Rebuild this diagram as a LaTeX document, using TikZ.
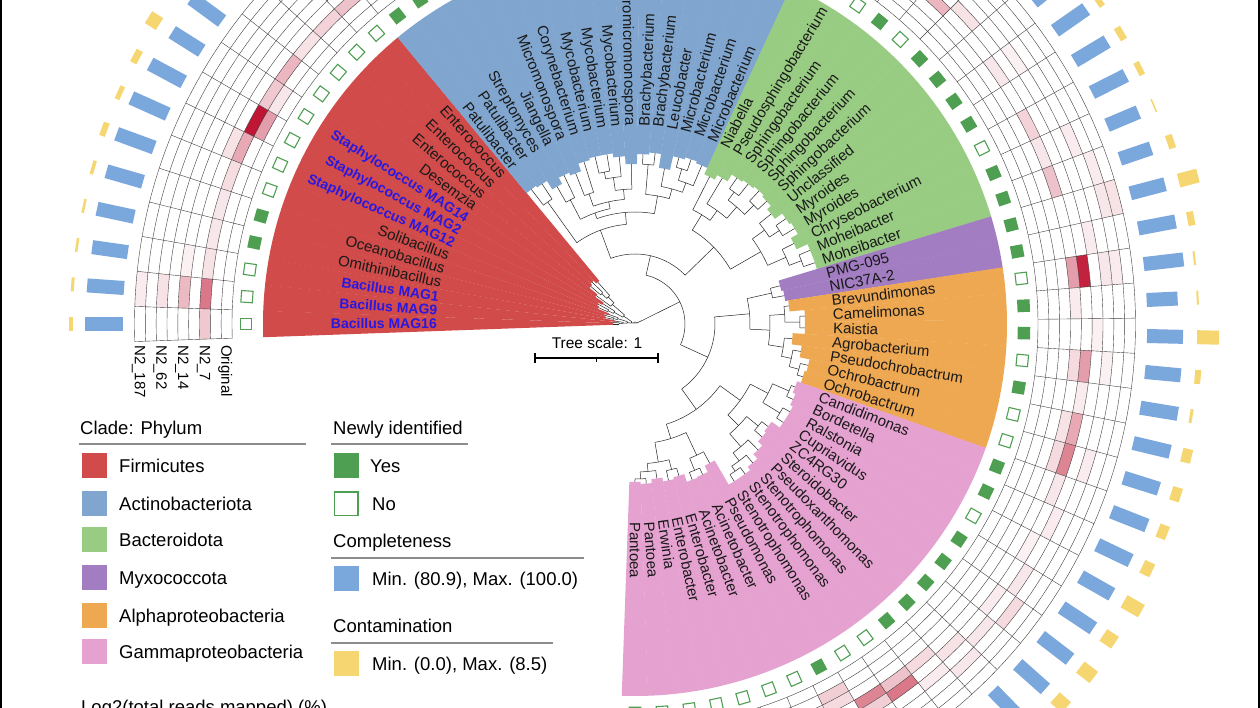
\documentclass[tikz,border=0pt]{standalone}
\usepackage{fontspec}
\setmainfont{Liberation Sans}
\usetikzlibrary{positioning}
\definecolor{firmicol}{HTML}{D14B4B}
\definecolor{actinocol}{HTML}{80A6CF}
\definecolor{bacterocol}{HTML}{99CC83}
\definecolor{myxocol}{HTML}{A27DC2}
\definecolor{alphacol}{HTML}{EEA852}
\definecolor{gammacol}{HTML}{E5A1D0}
\definecolor{newcol}{HTML}{4E9F52}
\definecolor{compcol}{HTML}{7AA7DC}
\definecolor{contcol}{HTML}{F6D670}
\definecolor{heatcol}{HTML}{BC0A2A}
\definecolor{magcol}{HTML}{2A18E0}
\tikzset{leaflab/.style={inner sep=0,text height=10pt,text depth=0pt,font=\fontsize{15}{17}\selectfont,text=black!90},
    maglab/.style={leaflab,font=\fontsize{14}{16}\selectfont\bfseries,text=magcol},
    sqyes/.style={rectangle,fill=newcol,inner sep=0,minimum size=12.5pt},
    sqno/.style={rectangle,draw=newcol,line width=1.1pt,fill=white,inner sep=0,minimum size=11.5pt},
    compbar/.style={rectangle,fill=compcol,inner sep=0,minimum height=14pt,anchor=west},
    contbar/.style={rectangle,fill=contcol,inner sep=0,minimum height=14pt,anchor=west},
    branch/.style={black!85,line width=0.5pt},
    heatgrid/.style={black!75,line width=0.4pt},
    legsq/.style={rectangle,inner sep=0,minimum width=25pt,minimum height=25pt},
    legtxt/.style={anchor=west,inner sep=0,text height=13.3pt,text depth=0pt,font=\fontsize{18.5}{21}\selectfont},
    legrule/.style={black!45,line width=1.2pt},
    collab/.style={inner sep=0,anchor=west,rotate=-90,text height=10.5pt,text depth=0pt,font=\fontsize{15}{17}\selectfont}}

\begin{document}
\begin{tikzpicture}[x=1pt,y=1pt]
\useasboundingbox (0,0) rectangle (1260,708);
\fill[white] (0,0) rectangle (1260,708);
\begin{scope}
\clip (0,0) rectangle (1260,708);
\begin{scope}[shift={(635,384)}]

% clade ranges and leaf branches
\foreach \i/\rp/\rt/\c in {0/16/22/firmicol,1/16/24/firmicol,2/12/20/firmicol,3/22/30/firmicol,
  4/22/32/firmicol,5/18/28/firmicol,6/30/40/firmicol,7/30/42/firmicol,8/24/38/firmicol,
  9/30/48/firmicol,10/45/58/firmicol,11/45/60/firmicol,12/38/56/firmicol,
  13/150/170/actinocol,14/150/168/actinocol,15/140/158/actinocol,16/140/165/actinocol,
  17/138/162/actinocol,18/138/170/actinocol,19/155/172/actinocol,20/155/172/actinocol,
  21/148/168/actinocol,22/135/160/actinocol,23/160/170/actinocol,24/160/172/actinocol,
  25/140/158/actinocol,26/162/172/actinocol,27/162/174/actinocol,28/150/172/actinocol,
  29/128/165/bacterocol,30/140/170/bacterocol,31/165/178/bacterocol,32/165/180/bacterocol,
  33/168/182/bacterocol,34/168/180/bacterocol,35/160/175/bacterocol,36/172/184/bacterocol,
  37/172/186/bacterocol,38/165/178/bacterocol,39/178/190/bacterocol,40/178/190/bacterocol,
  41/140/150/myxocol,42/140/152/myxocol,
  43/150/155/alphacol,44/165/170/alphacol,45/165/170/alphacol,46/150/158/alphacol,
  47/160/168/alphacol,48/170/178/alphacol,49/170/176/alphacol,
  50/168/172/gammacol,51/168/175/gammacol,52/170/178/gammacol,53/170/178/gammacol,
  54/160/168/gammacol,55/160/170/gammacol,56/162/176/gammacol,57/172/182/gammacol,
  58/178/186/gammacol,59/178/186/gammacol,60/145/158/gammacol,61/158/165/gammacol,
  62/158/166/gammacol,63/150/158/gammacol,64/150/160/gammacol,65/148/156/gammacol,
  66/155/160/gammacol,67/155/158/gammacol}{
  \pgfmathsetmacro\t{180-4.0299*\i}
  \pgfmathsetmacro\ta{\t+2.04}
  \pgfmathsetmacro\tb{\t-2.04}
  \fill[\c] (\tb:\rt) arc[start angle=\tb,end angle=\ta,radius=\rt] -- (\ta:372)
    arc[start angle=\ta,end angle=\tb,radius=372] -- cycle;
  \draw[branch] (\t:\rp) -- (\t:\rt);
}

% inner nodes of the tree
\foreach \rp/\rn/\a/\b in {0/2/5.71875/38.125,2/4/2.75/8.6875,4/8/1.25/4.25,8/12/0.5/2,
  12/16/0/1,8/18/3.5/5,18/22/3/4,4/14/7.25/10.125,14/24/6.5/8,24/30/6/7,14/30/9/11.25,
  30/38/10.5/12,38/45/10/11,2/50/25.5/50.75,50/70/17.3/33.69,70/100/13.5/21.11,
  100/150/13/14,100/112/17.41/24.81,112/118/15.5/19.31,118/140/15/16,118/125/17.5/21.125,
  125/138/17/18,125/135/20.25/22,135/148/19.5/21,148/155/19/20,112/130/23.5/26.125,
  130/160/23/24,130/140/25/27.25,140/150/26.5/28,150/162/26/27,70/110/30.125/37.25,
  110/128/29/31.25,128/140/30/32.5,140/155/31.5/33.5,155/165/31/32,155/168/33/34,
  110/145/35.75/38.75,145/160/35/36.5,160/172/36/37,145/165/38/39.5,165/178/39/40,
  50/80/43.4/58.1,80/115/41.5/45.31,115/140/41/42,115/135/43.75/46.875,135/150/43/44.5,
  150/165/44/45,135/150/46/47.75,150/160/47/48.5,160/170/48/49,80/105/53.6/62.69,
  105/130/51.5/55.69,130/150/50.5/52.5,150/168/50/51,150/170/52/53,130/145/54.5/56.875,
  145/160/54/55,145/162/56/57.75,162/172/57/58.5,172/178/58/59,105/120/60.75/64.625,
  120/145/60/61.5,145/158/61/62,120/140/63.5/65.75,140/150/63/64,140/148/65/66.5,
  148/155/66/67}{
  \pgfmathsetmacro\ta{180-4.0299*\a}
  \pgfmathsetmacro\tb{180-4.0299*\b}
  \pgfmathsetmacro\tm{(\ta+\tb)/2}
  \draw[branch] (\tm:\rp) -- (\tm:\rn);
  \draw[branch] (\ta:\rn) arc[start angle=\ta,end angle=\tb,radius=\rn];
}

% leaf labels
\foreach \i/\nm/\st in {0/Bacillus MAG16/maglab,1/Bacillus MAG9/maglab,2/Bacillus MAG1/maglab,
  3/Omithinibacillus/leaflab,4/Oceanobacillus/leaflab,5/Solibacillus/leaflab,
  6/Staphylococcus MAG12/maglab,7/Staphylococcus MAG2/maglab,8/Staphylococcus MAG14/maglab,
  9/Desemzia/leaflab,10/Enterococcus/leaflab,11/Enterococcus/leaflab,12/Enterococcus/leaflab,
  13/Patulibacter/leaflab,14/Patulibacter/leaflab,15/Streptomyces/leaflab,16/Jiangella/leaflab,
  17/Micromonospora/leaflab,18/Corynebacterium/leaflab,19/Mycobacterium/leaflab,
  20/Mycobacterium/leaflab,21/Mycobacterium/leaflab,22/romicromonospora/leaflab,
  23/Brachybacterium/leaflab,24/Brachybacterium/leaflab,25/Leucobacter/leaflab,
  26/Microbacterium/leaflab,27/Microbacterium/leaflab,28/Microbacterium/leaflab,
  29/Niabella/leaflab,30/Pseudosphingobacterium/leaflab,31/Sphingobacterium/leaflab,
  32/Sphingobacterium/leaflab,33/Sphingobacterium/leaflab,34/Sphingobacterium/leaflab,
  35/Unclassified/leaflab,36/Myroides/leaflab,37/Myroides/leaflab,38/Chryseobacterium/leaflab,
  39/Moheibacter/leaflab,40/Moheibacter/leaflab,41/PMG-095/leaflab,42/NIC37A-2/leaflab,
  43/Brevundimonas/leaflab,44/Camelimonas/leaflab,45/Kaistia/leaflab,46/Agrobacterium/leaflab,
  47/Pseudochrobactrum/leaflab,48/Ochrobactrum/leaflab,49/Ochrobactrum/leaflab,
  50/Candidimonas/leaflab,51/Bordetella/leaflab,52/Ralstonia/leaflab,53/Cupriavidus/leaflab,
  54/ZC4RG30/leaflab,55/Steroidobacter/leaflab,56/Pseudoxanthomonas/leaflab,
  57/Stenotrophomonas/leaflab,58/Stenotrophomonas/leaflab,59/Stenotrophomonas/leaflab,
  60/Pseudomonas/leaflab,61/Acinetobacter/leaflab,62/Acinetobacter/leaflab,
  63/Enterobacter/leaflab,64/Enterobacter/leaflab,65/Erwinia/leaflab,66/Pantoea/leaflab,
  67/Pantoea/leaflab}{
  \pgfmathsetmacro\t{180-4.0299*\i}
  \ifdim\t pt>90pt
    \node[\st,anchor=east,rotate=\t-180] (lab\i) at (\t:198) {\nm};
  \else
    \node[\st,anchor=west,rotate=\t] (lab\i) at (\t:198) {\nm};
  \fi
}

% newly identified
\foreach \i/\s in {0/sqno,1/sqno,2/sqno,3/sqyes,4/sqyes,5/sqno,6/sqno,7/sqno,8/sqno,9/sqno,
  10/sqno,11/sqno,12/sqno,13/sqyes,14/sqyes,15/sqno,16/sqyes,17/sqno,18/sqyes,19/sqno,
  20/sqyes,21/sqyes,22/sqno,23/sqyes,24/sqno,25/sqyes,26/sqyes,27/sqno,28/sqyes,29/sqno,
  30/sqyes,31/sqno,32/sqyes,33/sqno,34/sqyes,35/sqyes,36/sqyes,37/sqyes,38/sqno,39/sqyes,
  40/sqyes,41/sqyes,42/sqyes,43/sqno,44/sqyes,45/sqyes,46/sqno,47/sqyes,48/sqno,49/sqno,
  50/sqyes,51/sqyes,52/sqno,53/sqyes,54/sqyes,55/sqyes,56/sqyes,57/sqyes,58/sqno,59/sqno,
  60/sqyes,61/sqno,62/sqno,63/sqno,64/sqno,65/sqno,66/sqno,67/sqno}{
  \pgfmathsetmacro\t{180-4.0299*\i}
  \node[\s,rotate=\t] (sq\i) at (\t:389) {};
}

% heatmap cells
\foreach \i/\k/\p in {0/2/22,1/8/8,1/6/12,1/4/28,1/2/55,2/2/12,2/4/6,3/2/10,4/2/10,5/2/14,
  6/2/35,6/3/12,7/1/40,7/2/95,8/2/22,8/1/10,9/2/30,10/2/12,11/2/18,12/2/25,13/2/15,14/3/10,
  32/3/10,33/3/30,34/4/12,36/3/10,36/5/6,38/3/18,39/3/10,39/6/8,40/3/25,40/7/8,41/7/10,
  41/8/12,42/5/8,43/3/40,43/4/90,43/6/10,43/7/8,44/3/8,45/5/6,46/3/15,46/4/40,46/6/6,
  47/4/8,48/3/12,48/4/35,49/3/15,49/4/50,49/6/8,50/4/10,51/5/8,52/4/6,53/5/10,54/6/15,
  54/4/8,55/5/10,56/4/12,56/6/10,57/3/15,57/5/8,58/4/55,58/3/25,59/3/50,59/4/20,60/1/20,
  60/2/15,61/2/10,62/1/8}{
  \pgfmathsetmacro\ta{182.015-4.0299*\i}
  \pgfmathsetmacro\tb{177.985-4.0299*\i}
  \pgfmathsetmacro\ra{403+10.833*\k}
  \pgfmathsetmacro\rb{\ra+10.833}
  \fill[heatcol!\p!white] (\tb:\ra) arc[start angle=\tb,end angle=\ta,radius=\ra] -- (\ta:\rb)
    arc[start angle=\ta,end angle=\tb,radius=\rb] -- cycle;
}
\foreach \k in {0,...,9}{
  \pgfmathsetmacro\r{403+10.833*\k}
  \draw[heatgrid] (182.015:\r) arc[start angle=182.015,end angle=-92.015,radius=\r];
}
\foreach \i in {0,...,68}{
  \pgfmathsetmacro\t{182.015-4.0299*\i}
  \draw[heatgrid] (\t:403) -- (\t:500.5);
}

% completeness
\foreach \i/\len in {0/38,1/37,2/36,3/38,4/38,5/40,6/40,7/38,8/35,9/38,10/37,11/36,12/38,
  13/36,14/37,15/38,16/36,17/37,18/38,19/36,20/37,21/38,22/35,23/37,24/36,25/38,26/37,
  27/36,28/38,29/37,30/36,31/38,32/37,33/36,34/38,35/37,36/38,37/38,38/38,39/34,40/33,
  41/36,42/38,43/40,44/31,45/36,46/36,47/38,48/38,49/37,50/38,51/37,52/36,53/38,54/37,
  55/37,56/35,57/36,58/37,59/36,60/37,61/38,62/36,63/37,64/38,65/36,66/37,67/38}{
  \pgfmathsetmacro\t{180-4.0299*\i}
  \node[compbar,minimum width=\len pt,rotate=\t] (cb\i) at (\t:512) {};
}

% contamination
\foreach \i/\len in {0/4,1/3,2/2.5,3/2.5,4/3.5,5/6,6/5,7/7,8/13,9/8,10/5,11/9,12/4,13/6,
  14/3,15/5,16/8,17/3,18/6,19/4,20/10,21/5,22/3,23/7,24/4,25/6,26/9,27/3,28/5,29/4,30/6,
  31/3,32/8,33/5,34/4,35/6,36/6,37/7,38/6,39/1.5,40/7,41/20,42/7,43/2,44/2,45/22,46/6,
  47/3,48/10,49/10,50/10,51/11,52/20,53/14,54/17,55/15,56/12,57/14,58/10,59/8,60/12,
  61/9,62/7,63/10,64/8,65/6,66/9,67/7}{
  \pgfmathsetmacro\t{180-4.0299*\i}
  \node[contbar,minimum width=\len pt,rotate=\t] (ct\i) at (\t:562) {};
}
\end{scope}

% heatmap column names
\foreach \x/\nm [count=\n] in {140/N2\_187,161.6/N2\_62,183.3/N2\_14,205/N2\_7,226.6/Original}
  \node[collab] (col\n) at (\x,363) {\nm};

% tree scale
\node[inner sep=0,font=\fontsize{15.5}{18}\selectfont] (tslab) at (597,365) {Tree scale: 1};
\coordinate (tsl) at (535,350);
\coordinate (tsr) at (658,350);
\coordinate (tsm) at (596.5,350);
\draw[line width=1.2pt] (tsl) -- (tsr);
\draw[line width=1.2pt] ([yshift=-5pt]tsl) -- ([yshift=5pt]tsl);
\draw[line width=1.2pt] ([yshift=-5pt]tsr) -- ([yshift=5pt]tsr);
\draw[line width=1.2pt] (tsm) -- ([yshift=-4pt]tsm);

% legend: clades
\node[legtxt] (cladehd) at (80,280) {Clade: Phylum};
\draw[legrule] (79,264) -- (306,264);
\foreach \y/\c/\nm [count=\n] in {242/firmicol/Firmicutes,204/actinocol/Actinobacteriota,
  168/bacterocol/Bacteroidota,130/myxocol/Myxococcota,92/alphacol/Alphaproteobacteria,
  56/gammacol/Gammaproteobacteria}{
  \node[legsq,fill=\c] (lgsq\n) at (94,\y) {};
  \node[legtxt] (lgtx\n) at (119,\y) {\nm};
}

% legend: rings
\node[legtxt] (newhd) at (333,280) {Newly identified};
\draw[legrule] (331,264) -- (468,264);
\node[legsq,fill=newcol] (lgyes) at (346,242) {};
\node[legtxt] (lgyestx) at (370,242) {Yes};
\node[legsq,draw=newcol,line width=1.6pt,minimum width=23.4pt,minimum height=23.4pt] (lgno) at (346,204) {};
\node[legtxt] (lgnotx) at (372,204) {No};
\node[legtxt] (comphd) at (333,167) {Completeness};
\draw[legrule] (331,150) -- (584,150);
\node[legsq,fill=compcol] (lgcomp) at (346,129) {};
\node[legtxt] (lgcomptx) at (372,129) {Min. (80.9), Max. (100.0)};
\node[legtxt] (conthd) at (333,82) {Contamination};
\draw[legrule] (331,65) -- (553,65);
\node[legsq,fill=contcol] (lgcont) at (346,44) {};
\node[legtxt] (lgconttx) at (372,44) {Min. (0.0), Max. (8.5)};
\node[legtxt] (loghd) at (81,1) {Log2(total reads mapped) (\%)};
\end{scope}

\draw[line width=2pt] (1,0) -- (1,708);
\draw[line width=2pt] (1259,0) -- (1259,708);
\end{tikzpicture}
\end{document}
